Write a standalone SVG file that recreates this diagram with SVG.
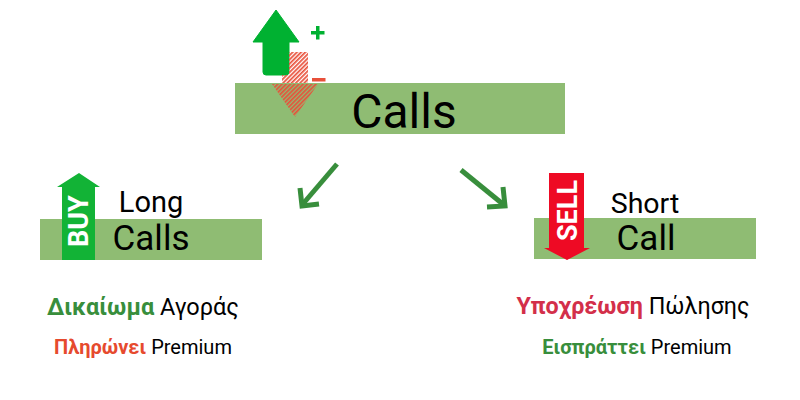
<svg xmlns="http://www.w3.org/2000/svg" width="800" height="400" viewBox="0 0 800 400">
<style>
text{font-family:Roboto,"Noto Sans",sans-serif}
.band{fill:#8fbc73}
.conn{fill:none;stroke:#388e3c;stroke-width:5}
.lbl{fill:#000}
</style>
<defs>
<pattern id="h" width="3" height="3" patternUnits="userSpaceOnUse" patternTransform="rotate(45)">
<rect width="1.700" height="3" fill="#e8503a"/>
</pattern>
</defs>
<rect width="800" height="400" fill="#fff"/>
<g id="calls-top">
<rect class="band" x="235" y="83" width="330" height="51"/>
<text x="404" y="128" font-size="48" text-anchor="middle" class="lbl">Calls</text>
</g>
<g id="up-down-arrows">
<path d="M276 10 L299 42 L289 42 L289 72 Q289 75 286 75 L266 75 Q263 75 263 72 L263 42 L253 42 Z" fill="#00b131" stroke="#00b131" stroke-linejoin="round" stroke-width="1"/>
<path d="M289 52 L308 52 L308 83 L282 83 L282 75 L289 75 Z" fill="url(#h)"/>
<path d="M272 84 L318 84 L295 117 Z" fill="url(#h)"/>
<path d="M316 26 h3.500 v5 h5 v3.500 h-5 v5 h-3.500 v-5 h-5 v-3.500 h5 Z" fill="#00b131"/>
<rect x="312" y="78" width="13.500" height="3.500" fill="#e8503a"/>
</g>
<g id="connectors">
<path class="conn" d="M337 164 L302 205"/>
<path class="conn" d="M300 188 L302 206 L319 204"/>
<path class="conn" d="M461 170 L504 205"/>
<path class="conn" d="M503 187 L505 206 L487 207"/>
</g>
<g id="long-calls">
<rect class="band" x="40" y="219" width="222" height="41"/>
<path d="M62 260 L62 187 L57 187 L79 173 L100 187 L95 187 L95 260 Z" fill="#12b336"/>
<text transform="translate(88 247) rotate(-90)" font-size="27" font-weight="700" fill="#fff">BUY</text>
<text x="151" y="212" font-size="29" text-anchor="middle" class="lbl">Long</text>
<text x="151" y="250" font-size="35" text-anchor="middle" class="lbl">Calls</text>
</g>
<g id="short-call">
<rect class="band" x="534" y="218" width="222" height="41"/>
<path d="M549 173 L584 173 L584 248 L590 248 L567 260 L544 248 L549 248 Z" fill="#ee0a24"/>
<text transform="translate(577 241) rotate(-90)" font-size="27" font-weight="700" fill="#fff">SELL</text>
<text x="645" y="213" font-size="28.500" text-anchor="middle" class="lbl">Short</text>
<text x="646" y="250" font-size="35" text-anchor="middle" class="lbl">Call</text>
</g>
<g id="long-text">
<text x="143" y="315" font-size="23.500" text-anchor="middle"><tspan font-weight="700" fill="#388e3c">Δικαίωμα</tspan> Αγοράς</text>
<text x="143" y="354" font-size="20" text-anchor="middle"><tspan font-weight="700" fill="#e64a2e">Πληρώνει</tspan> Premium</text>
</g>
<g id="short-text">
<text x="633" y="314" font-size="23.300" text-anchor="middle"><tspan font-weight="700" fill="#d32f4a">Υποχρέωση</tspan> Πώλησης</text>
<text x="637" y="354" font-size="20" text-anchor="middle"><tspan font-weight="700" fill="#388e3c">Εισπράττει</tspan> Premium</text>
</g>
</svg>
